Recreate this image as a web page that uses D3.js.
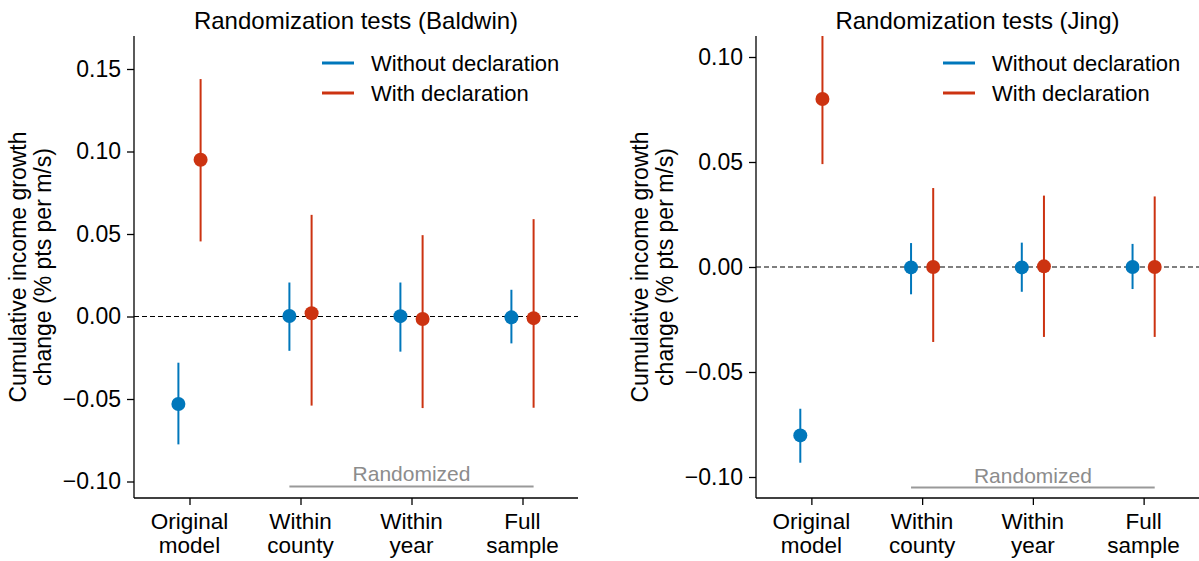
<!DOCTYPE html>
<html>
<head>
<meta charset="utf-8">
<script src="https://cdn.jsdelivr.net/npm/d3@7"></script>
<style>
  body { margin: 0; background: #fff; }
  text { font-family: "Liberation Sans", Arial, Helvetica, sans-serif; }
</style>
</head>
<body>
<div id="chart"></div>
<script>
// categories on the x axis (two lines each)
const categories = [["Original", "model"], ["Within", "county"], ["Within", "year"], ["Full", "sample"]]
const seriesNames = ["Without declaration", "With declaration"]
const seriesColors = ["#0077BB", "#CC3311"]

// Baldwin panel
const baldwinWithoutEst = [-0.053, 0.0003, 0.0002, -0.0005]
const baldwinWithoutLo = [-0.0775, -0.0208, -0.0213, -0.0163]
const baldwinWithoutHi = [-0.028, 0.0206, 0.0206, 0.0162]
const baldwinWithEst = [0.095, 0.002, -0.0015, -0.001]
const baldwinWithLo = [0.0455, -0.054, -0.0555, -0.0553]
const baldwinWithHi = [0.1439, 0.0616, 0.0493, 0.059]
const baldwinTicks = [-0.10, -0.05, 0.00, 0.05, 0.10, 0.15]

// Jing panel
const jingWithoutEst = [-0.0802, -0.0002, -0.0002, 0.0]
const jingWithoutLo = [-0.0932, -0.013, -0.0118, -0.0105]
const jingWithoutHi = [-0.0675, 0.0114, 0.0116, 0.011]
const jingWithEst = [0.080, 0.0, 0.0003, 0.0]
const jingWithLo = [0.049, -0.0357, -0.0333, -0.0333]
const jingWithHi = [0.111, 0.0376, 0.034, 0.0336]
const jingTicks = [-0.10, -0.05, 0.00, 0.05, 0.10]

const width = 1199
const height = 561

const panels = [
    {
        title: "Randomization tests (Baldwin)",
        left: 134, right: 578,
        yDomain: [-0.11, 0.17], ticks: baldwinTicks, randY: -0.103,
        series: [
            {est: baldwinWithoutEst, lo: baldwinWithoutLo, hi: baldwinWithoutHi},
            {est: baldwinWithEst, lo: baldwinWithLo, hi: baldwinWithHi}
        ]
    },
    {
        title: "Randomization tests (Jing)",
        left: 756, right: 1199,
        yDomain: [-0.11, 0.11], ticks: jingTicks, randY: -0.105,
        series: [
            {est: jingWithoutEst, lo: jingWithoutLo, hi: jingWithoutHi},
            {est: jingWithEst, lo: jingWithLo, hi: jingWithHi}
        ]
    }
]

const plotTop = 36
const plotBottom = 498
const offset = 0.1 // side shift of each series within a category

const svg = d3.select('#chart')
    .append('svg')
    .attr('width', width)
    .attr('height', height)

const fmt = d3.format('.2f')

panels.forEach((p, pi) => {
    const x = d3.scaleLinear().domain([-0.5, 3.5]).range([p.left, p.right])
    const y = d3.scaleLinear().domain(p.yDomain).range([plotBottom, plotTop])
    const g = svg.append('g')

    g.append('clipPath')
        .attr('id', 'clip' + pi)
        .append('rect')
        .attr('x', p.left).attr('y', plotTop)
        .attr('width', p.right - p.left).attr('height', plotBottom - plotTop)

    // zero line
    g.append('line')
        .attr('x1', p.left).attr('x2', p.right)
        .attr('y1', y(0)).attr('y2', y(0))
        .attr('stroke', 'black')
        .attr('stroke-width', 1.2)
        .attr('stroke-dasharray', '5,3')

    // y axis
    const yAxis = g.append('g')
        .attr('transform', `translate(${p.left},0)`)
        .call(d3.axisLeft(y).tickValues(p.ticks).tickFormat(fmt).tickSize(7).tickPadding(6))
    yAxis.select('.domain').attr('d', `M0,${plotTop}V${plotBottom}`)

    // x axis
    const xAxis = g.append('g')
        .attr('transform', `translate(0,${plotBottom})`)
        .call(d3.axisBottom(x).tickValues([0, 1, 2, 3]).tickFormat('').tickSize(7))
    xAxis.select('.domain').attr('d', `M${p.left},0H${p.right}`)

    svg.selectAll('.domain').attr('stroke-width', 1.3)
    svg.selectAll('.tick line').attr('stroke-width', 1.3)
    yAxis.selectAll('.tick text').attr('font-size', 23).attr('fill', 'black')

    // category labels
    categories.forEach((lines, i) => {
        const t = g.append('text')
            .attr('x', x(i))
            .attr('y', 529)
            .attr('text-anchor', 'middle')
            .attr('font-size', 22.5)
        lines.forEach((l, j) => {
            t.append('tspan').attr('x', x(i)).attr('dy', j === 0 ? 0 : 24).text(l)
        })
    })

    // title
    g.append('text')
        .attr('x', (p.left + p.right) / 2)
        .attr('y', 29)
        .attr('text-anchor', 'middle')
        .attr('font-size', 24)
        .text(p.title)

    // y label
    const lab = g.append('text')
        .attr('transform', `translate(${p.left - 108},${(plotTop + plotBottom) / 2}) rotate(-90)`)
        .attr('text-anchor', 'middle')
        .attr('font-size', 23)
    lab.append('tspan').attr('x', 0).attr('dy', 0).text('Cumulative income growth')
    lab.append('tspan').attr('x', 0).attr('dy', 25).text('change (% pts per m/s)')

    // randomized bracket
    g.append('line')
        .attr('x1', x(1 - offset)).attr('x2', x(3 + offset))
        .attr('y1', y(p.randY)).attr('y2', y(p.randY))
        .attr('stroke', '#999')
        .attr('stroke-width', 2)
    g.append('text')
        .attr('x', (x(1 - offset) + x(3 + offset)) / 2)
        .attr('y', y(p.randY) - 5)
        .attr('text-anchor', 'middle')
        .attr('font-size', 21)
        .attr('fill', '#8c8c8c')
        .text('Randomized')

    // error bars and points
    const plot = g.append('g').attr('clip-path', `url(#clip${pi})`)
    p.series.forEach((s, si) => {
        const dx = si === 0 ? -offset : offset
        const rows = s.est.map((v, i) => ({i: i, est: v, lo: s.lo[i], hi: s.hi[i]}))
        plot.selectAll('.bar' + si)
            .data(rows)
            .join('line')
            .attr('class', 'bar' + si)
            .attr('x1', d => x(d.i + dx)).attr('x2', d => x(d.i + dx))
            .attr('y1', d => y(d.lo)).attr('y2', d => y(d.hi))
            .attr('stroke', seriesColors[si])
            .attr('stroke-width', 2)
        plot.selectAll('.pt' + si)
            .data(rows)
            .join('circle')
            .attr('class', 'pt' + si)
            .attr('cx', d => x(d.i + dx))
            .attr('cy', d => y(d.est))
            .attr('r', 7)
            .attr('fill', seriesColors[si])
    })

    // legend
    seriesNames.forEach((name, si) => {
        const ly = 63 + si * 30
        g.append('line')
            .attr('x1', p.right - 256).attr('x2', p.right - 224)
            .attr('y1', ly).attr('y2', ly)
            .attr('stroke', seriesColors[si])
            .attr('stroke-width', 3)
        g.append('text')
            .attr('x', p.right - 207)
            .attr('y', ly + 8)
            .attr('font-size', 22)
            .text(name)
    })
})
</script>
</body>
</html>
